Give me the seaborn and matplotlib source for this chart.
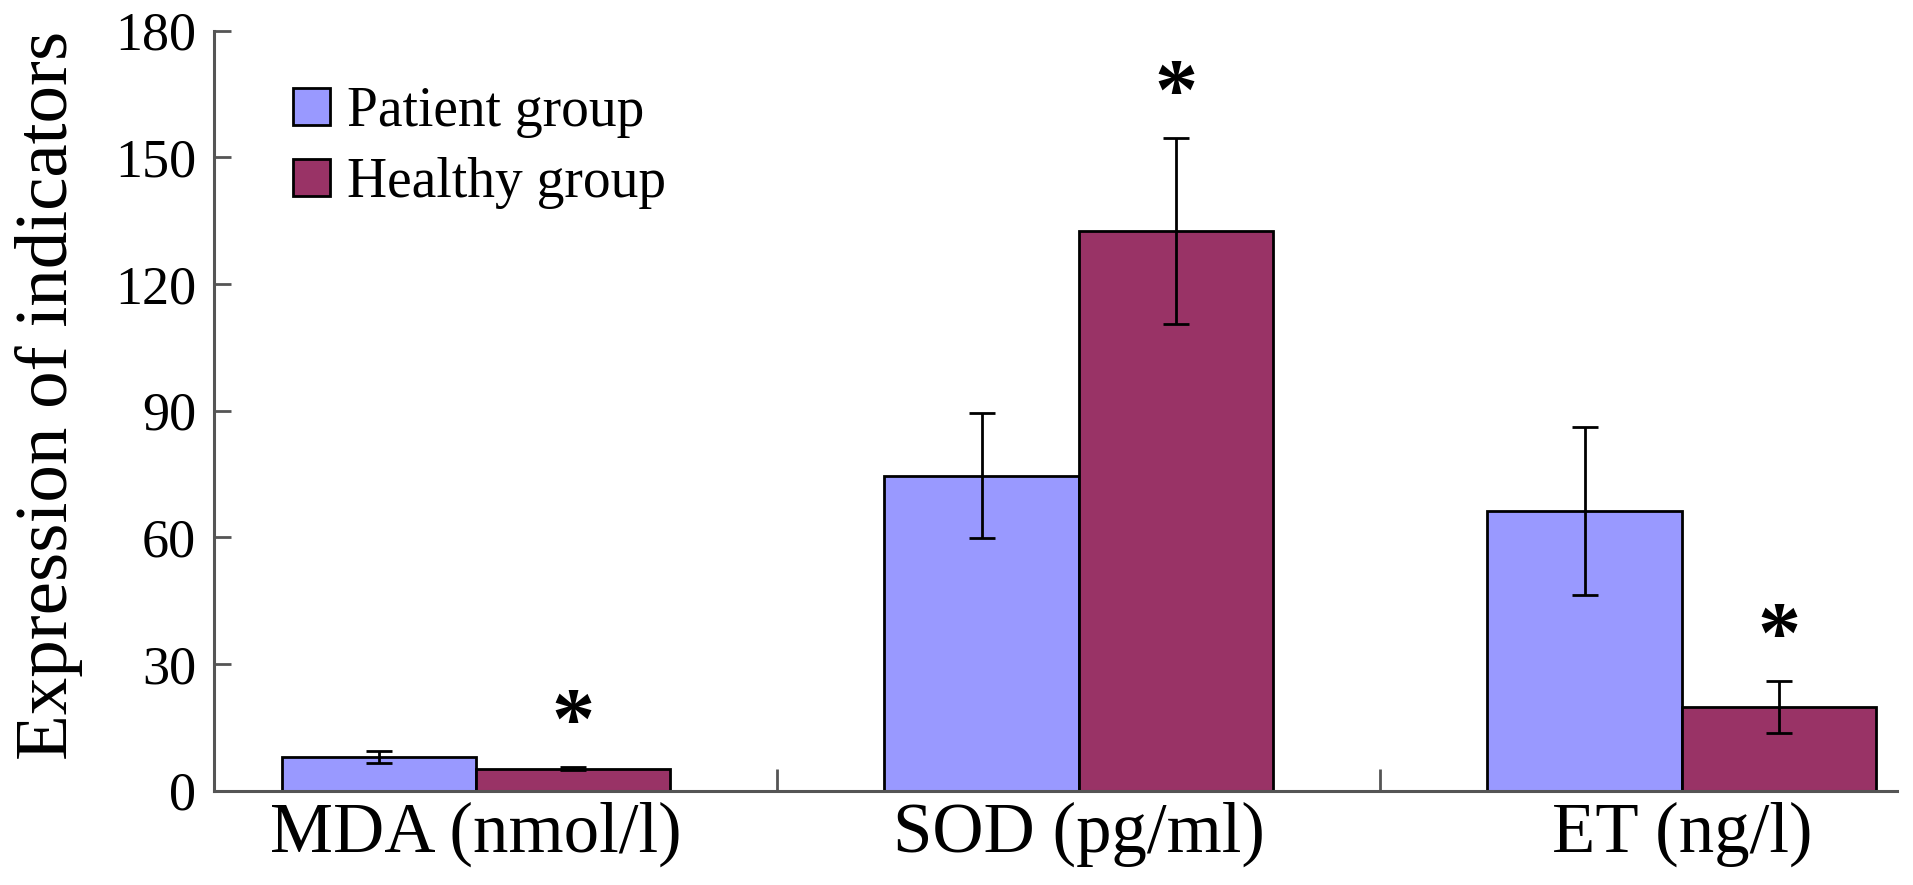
import numpy as np
import pandas as pd
import matplotlib
matplotlib.use("Agg")
import matplotlib.pyplot as plt
import seaborn as sns

# ---- data ----
indicators = ["MDA (nmol/l)", "SOD (pg/ml)", "ET (ng/l)"]
groups = ["Patient group", "Healthy group"]
patient_mean = [8.0, 74.5, 66.3]
patient_err = [1.4, 14.8, 19.9]
healthy_mean = [5.2, 132.6, 19.8]
healthy_err = [0.4, 22.0, 6.1]
significant = [True, True, True]  # healthy vs patient
yticks = [0, 30, 60, 90, 120, 150, 180]

df = pd.DataFrame({
    "indicator": indicators * 2,
    "group": [groups[0]] * 3 + [groups[1]] * 3,
    "value": patient_mean + healthy_mean,
})
errs = {groups[0]: patient_err, groups[1]: healthy_err}
means = {groups[0]: patient_mean, groups[1]: healthy_mean}

sns.set_style("ticks")
plt.rcParams["font.family"] = ["Liberation Serif", "DejaVu Serif"]
plt.rcParams["text.color"] = "black"
plt.rcParams["axes.labelcolor"] = "black"

fig = plt.figure(figsize=(19.13, 8.85), dpi=100)
ax = fig.add_axes([214 / 1913, 1 - 790.5 / 885, 1683 / 1913, 760 / 885])

palette = {groups[0]: "#9999FF", groups[1]: "#993366"}
sns.barplot(data=df, x="indicator", y="value", hue="group", order=indicators,
            hue_order=groups, palette=palette, width=0.645, errorbar=None,
            edgecolor="black", linewidth=2.0, saturation=1, ax=ax)

# error bars and stars
for gi, g in enumerate(groups):
    cont = ax.containers[gi]
    for ci, bar in enumerate(cont):
        xc = bar.get_x() + bar.get_width() / 2
        ax.errorbar(xc, means[g][ci], yerr=errs[g][ci], fmt="none",
                    ecolor="black", elinewidth=2.0, capsize=9.5, capthick=2.0,
                    zorder=5)
        if g == groups[1] and significant[ci]:
            ax.annotate("*", xy=(xc, means[g][ci] + errs[g][ci]),
                        xytext=(0, 36), textcoords="offset points",
                        ha="center", va="center_baseline", fontsize=62,
                        fontweight="bold", color="black")

ax.set_ylim(0, 180)
ax.set_xlim(-0.4345, 2.357)
ax.set_yticks(yticks)
ax.set_yticklabels([str(v) for v in yticks])
ax.tick_params(axis="y", direction="in", length=12, width=2, color="#555555",
               labelcolor="black", labelsize=39, pad=13)
ax.tick_params(axis="x", which="major", length=0, labelsize=51, pad=8,
               labelcolor="black")
ax.set_xticks([0.5, 1.5], minor=True)
ax.tick_params(axis="x", which="minor", direction="in", length=16, width=2,
               color="#555555")

for s in ["top", "right"]:
    ax.spines[s].set_visible(False)
for s in ["left", "bottom"]:
    ax.spines[s].set_color("#555555")
    ax.spines[s].set_linewidth(2.2)

ax.set_xlabel("")
ax.set_ylabel("Expression of indicators", fontsize=54, color="black")
ax.yaxis.set_label_coords(-0.078, 0.52)

handles, labels = ax.get_legend_handles_labels()
leg = ax.legend(handles, labels, loc="upper left", frameon=False, fontsize=40,
                bbox_to_anchor=(293 / 1913, 1 - 86 / 885),
                bbox_transform=fig.transFigure,
                borderpad=0, borderaxespad=0, handlelength=0.665,
                handleheight=0.665, handletextpad=0.3, labelspacing=0.34)
for t in leg.get_texts():
    t.set_color("black")

fig.savefig("out.png", dpi=100)
